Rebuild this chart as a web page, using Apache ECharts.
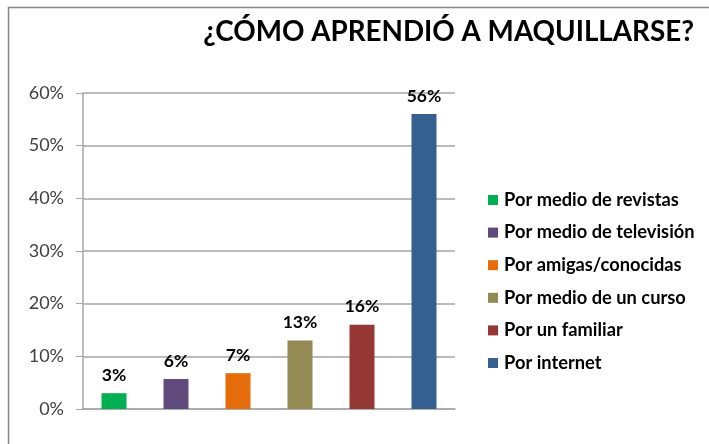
<!DOCTYPE html>
<html>
<head>
<meta charset="utf-8">
<script src="https://cdn.jsdelivr.net/npm/echarts@6/dist/echarts.min.js"></script>
<style>
    html, body { margin: 0; padding: 0; background: #fff; }
    #chart { width: 709px; height: 444px; }
</style>
</head>
<body>
<div id="chart"></div>
<script>
(function () {

    /* ========= datos ========= */
    var categorias = [
        'Por medio de revistas',
        'Por medio de televisión',
        'Por amigas/conocidas',
        'Por medio de un curso',
        'Por un familiar',
        'Por internet'
    ];
    var valores = [3, 5.7, 6.8, 13, 16, 56];
    var colores = ['#00b050', '#604a7b', '#e46c0a', '#948a54', '#953735', '#366092'];
    var ticksY = [0, 10, 20, 30, 40, 50, 60];

    var myChart = echarts.init(document.getElementById('chart'));

    // una serie por categoria, para que salga en la leyenda
    var series = [];
    for (var i = 0; i < categorias.length; i++) {
        var datos = [];
        for (var j = 0; j < categorias.length; j++) {
            datos.push(j === i ? valores[i] : '-');
        }
        series.push({
            name: categorias[i],
            type: 'bar',
            data: datos,
            barWidth: 25,
            barGap: '-100%',
            itemStyle: { color: colores[i] },
            label: {
                show: true,
                position: 'top',
                distance: 9,
                fontFamily: 'Lato',
                fontWeight: 'bold',
                fontSize: 17.5,
                color: '#000',
                formatter: function (p) { return Math.round(p.value) + '%'; }
            }
        });
    }

    var option = {
        animation: false,
        title: {
            text: '¿CÓMO APRENDIÓ A MAQUILLARSE?',
            right: 10,
            top: 13,
            textStyle: {
                fontFamily: 'Lato',
                fontWeight: 'bold',
                fontSize: 27.8,
                color: '#000'
            }
        },
        graphic: [{
            type: 'rect',
            shape: { x: 8.5, y: 7.5, width: 760, height: 500 },
            style: { fill: null, stroke: '#868686', lineWidth: 1.5 },
            silent: true
        }],
        legend: {
            orient: 'vertical',
            left: 483,
            top: 186,
            itemWidth: 10,
            itemHeight: 10,
            itemGap: 14.6,
            icon: 'rect',
            data: categorias,
            textStyle: {
                fontFamily: 'Lato',
                fontWeight: 'bold',
                fontSize: 18.3,
                lineHeight: 18,
                color: '#000',
                padding: [0, 0, 0, 1]
            }
        },
        grid: {
            left: 83,
            right: 254,
            top: 93,
            bottom: 35
        },
        xAxis: {
            type: 'category',
            data: categorias,
            axisLine: { lineStyle: { color: '#a6a6a6', width: 1.5 } },
            axisTick: { show: false },
            axisLabel: { show: false }
        },
        yAxis: {
            type: 'value',
            min: ticksY[0],
            max: ticksY[ticksY.length - 1],
            interval: 10,
            axisLine: { show: true, lineStyle: { color: '#a6a6a6', width: 1.5 } },
            axisTick: { show: true, length: 7, lineStyle: { color: '#a6a6a6' } },
            splitLine: { lineStyle: { color: '#a6a6a6', width: 1.5 } },
            axisLabel: {
                margin: 19,
                fontFamily: 'Lato',
                fontSize: 18,
                color: '#404040',
                formatter: '{value}%'
            }
        },
        series: series
    };

    myChart.setOption(option);
}());
</script>
</body>
</html>
